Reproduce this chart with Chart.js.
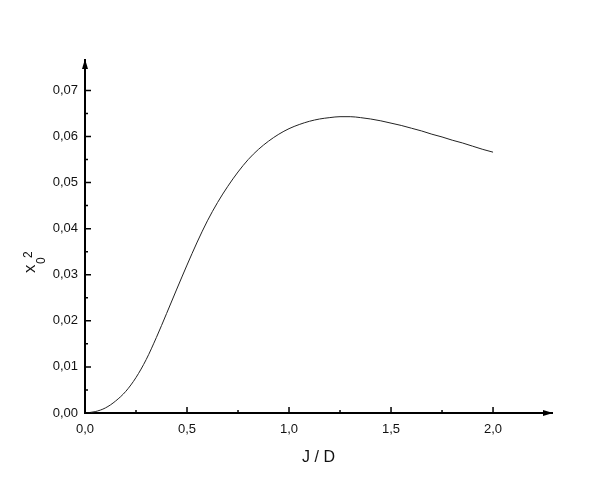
<!DOCTYPE html>
<html>
<head>
<meta charset="utf-8">
<style>
    body { margin: 0; background: #fff; }
</style>
</head>
<body>
<canvas id="chart" width="599" height="491"></canvas>
<script src="https://cdn.jsdelivr.net/npm/chart.js"></script>
<script>
const jd = [0, 0.05, 0.1, 0.15, 0.2, 0.25, 0.3, 0.35, 0.4, 0.45, 0.5, 0.55, 0.6, 0.65, 0.7, 0.75, 0.8, 0.85, 0.9, 0.95, 1.0,
    1.05, 1.1, 1.15, 1.2, 1.25, 1.3, 1.35, 1.4, 1.45, 1.5, 1.55, 1.6, 1.65, 1.7, 1.75, 1.8, 1.85, 1.9, 1.95, 2.0];
const x0sq = [0, 0.0003, 0.0011, 0.0026, 0.0047, 0.0077, 0.0116, 0.0164, 0.0216, 0.0269, 0.0321, 0.0371, 0.0417, 0.0457, 0.0492, 0.0523, 0.0550, 0.0572, 0.0590, 0.0605, 0.0617,
    0.0626, 0.0633, 0.0638, 0.0641, 0.0643, 0.0643, 0.0641, 0.0638, 0.0634, 0.0629, 0.0624, 0.0618, 0.0612, 0.0605, 0.0599, 0.0592, 0.0586, 0.0579, 0.0572, 0.0566];

const xTicks = [0, 0.5, 1.0, 1.5, 2.0];
const xMinor = [0.25, 0.75, 1.25, 1.75];
const yTicks = [0, 0.01, 0.02, 0.03, 0.04, 0.05, 0.06, 0.07];
const yMinor = [0.005, 0.015, 0.025, 0.035, 0.045, 0.055, 0.065];

const fam = "'Liberation Sans', Arial, sans-serif";
const tickFont = { family: fam, size: 13 };

// inward ticks, arrows and the y title with sub/superscript
const axesPlugin = {
    id: 'axes',
    afterDraw(chart) {
        const ctx = chart.ctx;
        const xs = chart.scales.x;
        const ys = chart.scales.y;
        const x0 = xs.getPixelForValue(0);
        const y0 = ys.getPixelForValue(0);
        const top = chart.chartArea.top;
        const right = chart.chartArea.right;

        ctx.save();
        ctx.strokeStyle = '#000';
        ctx.fillStyle = '#000';
        ctx.lineWidth = 1.5;
        ctx.beginPath();
        xTicks.forEach(v => {
            const p = xs.getPixelForValue(v);
            ctx.moveTo(p, y0); ctx.lineTo(p, y0 - 6);
        });
        xMinor.forEach(v => {
            const p = xs.getPixelForValue(v);
            ctx.moveTo(p, y0); ctx.lineTo(p, y0 - 3);
        });
        yTicks.forEach(v => {
            const p = ys.getPixelForValue(v);
            ctx.moveTo(x0, p); ctx.lineTo(x0 + 6, p);
        });
        yMinor.forEach(v => {
            const p = ys.getPixelForValue(v);
            ctx.moveTo(x0, p); ctx.lineTo(x0 + 3, p);
        });
        ctx.stroke();

        // arrow heads
        ctx.beginPath();
        ctx.moveTo(x0, top - 1);
        ctx.lineTo(x0 - 3, top + 9);
        ctx.lineTo(x0 + 3, top + 9);
        ctx.closePath();
        ctx.fill();
        ctx.beginPath();
        ctx.moveTo(right + 1, y0);
        ctx.lineTo(right - 9, y0 - 3);
        ctx.lineTo(right - 9, y0 + 3);
        ctx.closePath();
        ctx.fill();

        // y title: x with subscript 0 and superscript 2
        ctx.translate(35, 273);
        ctx.rotate(-Math.PI / 2);
        ctx.fillStyle = '#111';
        ctx.textAlign = 'left';
        ctx.textBaseline = 'alphabetic';
        ctx.font = '17px ' + fam;
        ctx.fillText('x', 0, 0);
        ctx.font = '12px ' + fam;
        ctx.fillText('0', 9, 10);
        ctx.fillText('2', 15, -3);
        ctx.restore();
    }
};

const config = {
    type: 'scatter',
    data: {
        datasets: [{
            data: jd.map((v, i) => ({ x: v, y: x0sq[i] })),
            showLine: true,
            borderColor: '#222',
            borderWidth: 1,
            pointRadius: 0,
            cubicInterpolationMode: 'monotone',
        }]
    },
    options: {
        responsive: false,
        animation: false,
        layout: { padding: { top: 60, right: 47, left: 0, bottom: 0 } },
        plugins: {
            legend: { display: false },
            tooltip: { enabled: false },
        },
        scales: {
            x: {
                type: 'linear',
                min: 0,
                max: 2.289,
                grid: { display: false, drawTicks: false },
                border: { display: true, color: '#000', width: 2 },
                afterBuildTicks: s => { s.ticks = xTicks.map(v => ({ value: v })); },
                afterFit: s => { s.height = 78; },
                ticks: {
                    padding: 9,
                    color: '#111',
                    font: tickFont,
                    maxRotation: 0,
                    callback: v => v.toFixed(1).replace('.', ','),
                },
                title: {
                    display: true,
                    text: 'J / D',
                    color: '#111',
                    font: { family: fam, size: 16 },
                    padding: { top: 4, bottom: 24 },
                },
            },
            y: {
                type: 'linear',
                min: 0,
                max: 0.0766,
                grid: { display: false, drawTicks: false },
                border: { display: true, color: '#000', width: 2 },
                afterBuildTicks: s => { s.ticks = yTicks.map(v => ({ value: v })); },
                afterFit: s => { s.width = 85; },
                ticks: {
                    padding: 7,
                    color: '#111',
                    font: tickFont,
                    callback: v => v.toFixed(2).replace('.', ','),
                },
            },
        },
    },
    plugins: [axesPlugin],
};

new Chart(document.getElementById('chart').getContext('2d'), config);
</script>
</body>
</html>
